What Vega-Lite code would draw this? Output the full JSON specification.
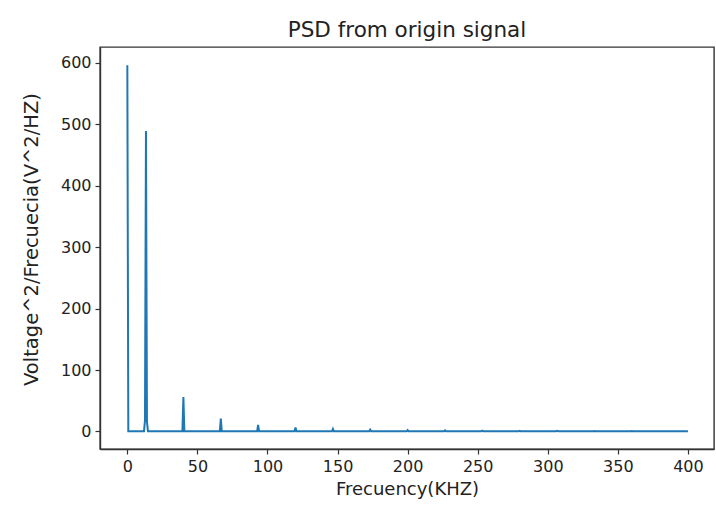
{
  "$schema": "https://vega.github.io/schema/vega-lite/v6.json",
  "autosize": "none",
  "width": 614,
  "height": 402,
  "padding": {"left": 100, "top": 47, "right": 2, "bottom": 62},
  "background": "white",
  "title": {"text": "PSD from origin signal", "font": "DejaVu Sans", "fontSize": 21.5, "fontWeight": "normal", "color": "#222", "offset": 6},
  "config": {
    "view": {"stroke": "#333", "strokeWidth": 1.4},
    "axis": {
      "labelFont": "DejaVu Sans", "titleFont": "DejaVu Sans",
      "labelFontSize": 16, "titleFontSize": 18, "titleFontWeight": "normal",
      "labelColor": "#222", "titleColor": "#222",
      "domainColor": "#333", "domainWidth": 1.4, "tickColor": "#333", "tickSize": 5, "tickWidth": 1.2, "grid": false,
      "labelPadding": 4
    }
  },
  "data": {"values": [
    {"f": 0, "p": 596},
    {"f": 0.7, "p": 0.3},
    {"f": 11.9, "p": 0.3},
    {"f": 12.6, "p": 18},
    {"f": 13.3, "p": 489},
    {"f": 14.0, "p": 16},
    {"f": 14.7, "p": 0.3},
    {"f": 39.3, "p": 0.3},
    {"f": 40.0, "p": 56},
    {"f": 40.7, "p": 0.3},
    {"f": 66.0, "p": 0.3},
    {"f": 66.7, "p": 21},
    {"f": 67.4, "p": 0.3},
    {"f": 92.6, "p": 0.3},
    {"f": 93.3, "p": 10.5},
    {"f": 94.0, "p": 0.3},
    {"f": 119.3, "p": 0.3},
    {"f": 120.0, "p": 6.5},
    {"f": 120.7, "p": 0.3},
    {"f": 146.0, "p": 0.3},
    {"f": 146.7, "p": 4.2},
    {"f": 147.4, "p": 0.3},
    {"f": 172.6, "p": 0.3},
    {"f": 173.3, "p": 3},
    {"f": 174.0, "p": 0.3},
    {"f": 199.3, "p": 0.3},
    {"f": 200.0, "p": 2.3},
    {"f": 200.7, "p": 0.3},
    {"f": 226.0, "p": 0.3},
    {"f": 226.7, "p": 1.7},
    {"f": 227.4, "p": 0.3},
    {"f": 252.6, "p": 0.3},
    {"f": 253.3, "p": 1.3},
    {"f": 254.0, "p": 0.3},
    {"f": 279.3, "p": 0.3},
    {"f": 280.0, "p": 1.1},
    {"f": 280.7, "p": 0.3},
    {"f": 306.0, "p": 0.3},
    {"f": 306.7, "p": 0.9},
    {"f": 307.4, "p": 0.3},
    {"f": 332.6, "p": 0.3},
    {"f": 333.3, "p": 0.7},
    {"f": 334.0, "p": 0.3},
    {"f": 359.3, "p": 0.3},
    {"f": 360.0, "p": 0.6},
    {"f": 360.7, "p": 0.3},
    {"f": 386.0, "p": 0.3},
    {"f": 386.7, "p": 0.5},
    {"f": 387.4, "p": 0.3},
    {"f": 400, "p": 0.3}
  ]},
  "mark": {"type": "line", "color": "#1f77b4", "strokeWidth": 2, "clip": true},
  "encoding": {
    "x": {"field": "f", "type": "quantitative", "sort": null,
      "scale": {"domain": [-19.5, 418.6], "nice": false, "zero": false},
      "axis": {"title": "Frecuency(KHZ)", "values": [0, 50, 100, 150, 200, 250, 300, 350, 400], "titlePadding": 6}},
    "y": {"field": "p", "type": "quantitative",
      "scale": {"domain": [-28.5, 625.5], "nice": false, "zero": false},
      "axis": {"title": "Voltage^2/Frecuecia(V^2/HZ)", "titleFontSize": 19.5, "values": [0, 100, 200, 300, 400, 500, 600], "titleX": -59, "titleY": 192}}
  }
}
